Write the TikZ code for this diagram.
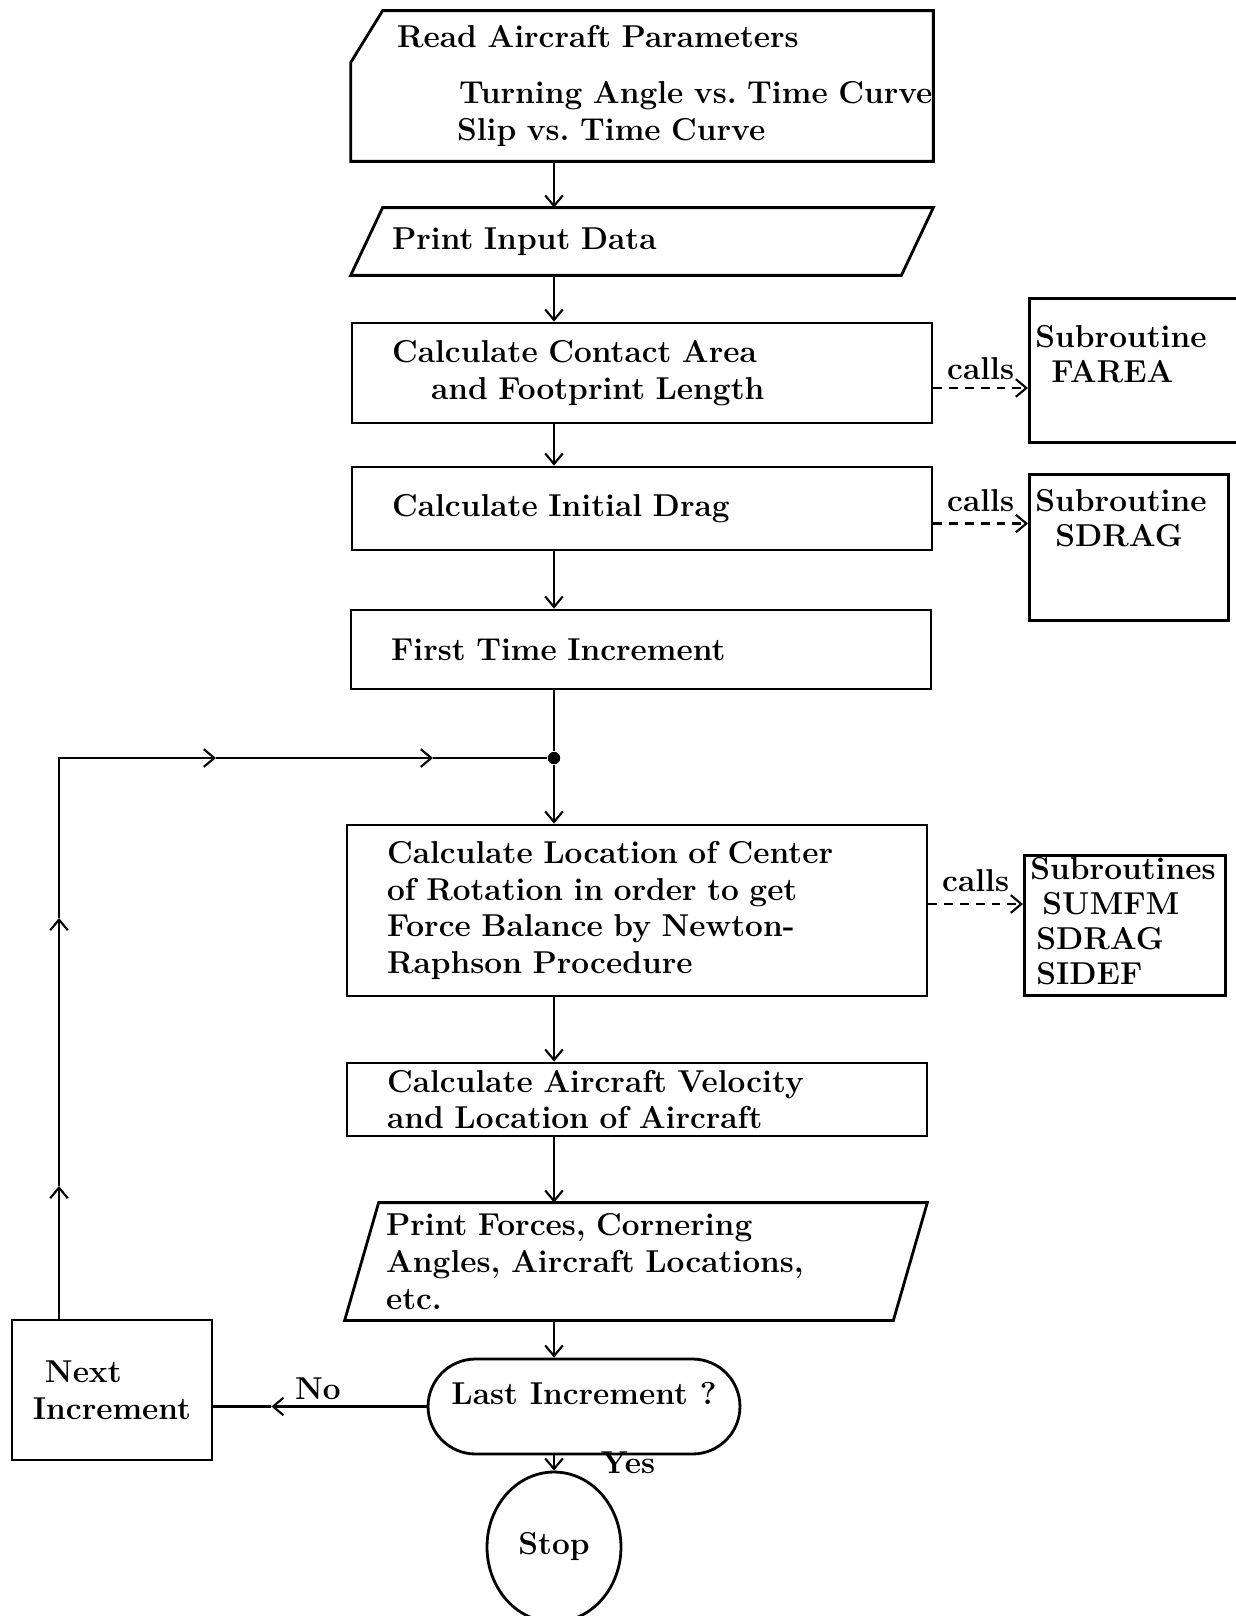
\documentclass[tikz,border=0pt]{standalone}
\usetikzlibrary{shapes.geometric, arrows.meta}

\tikzset{
	box/.style={rectangle, draw, line width=1.6pt, align=left, text width=10cm, inner xsep=0.8cm, inner ysep=0.05cm},
	sub/.style={rectangle, draw, line width=1.6pt, align=left, inner xsep=0.12cm, inner ysep=0.1cm, anchor=north west, font=\fontsize{18}{20}\selectfont\bfseries},
	flow/.style={->, line width=1.2pt},
	calls/.style={->, line width=1.2pt, dash pattern=on 5pt off 4pt},
}

\begin{document}
\begin{tikzpicture}[x=0.02cm, y=-0.02cm, font=\fontsize{18}{21}\selectfont\bfseries, >={Straight Barb[length=6pt, width=10pt]}]

\useasboundingbox (0,0) rectangle (1235,1616);

\node(0) [box, draw=none, text width=11.6cm, inner xsep=0pt, minimum height=2.96cm] at (642, 86) {
	\hspace*{0.9cm}Read Aircraft Parameters\\[0.38cm]
	\hspace*{2.14cm}\mbox{Turning Angle vs.\ Time Curve}\\
	\hspace*{2.1cm}Slip vs.\ Time Curve
};
\draw [line width=1.6pt] ([yshift=-1.04cm]0.north west) -- ([xshift=0.64cm]0.north west) -- (0.north east) -- (0.south east) -- (0.south west) -- cycle;

\node(1) [box, draw=none, minimum height=1.3cm] at (642, 241.5) {Print Input Data};
\draw [line width=1.6pt] (1.south west) -- ([xshift=0.64cm]1.north west) -- (1.north east) -- ([xshift=-0.64cm]1.south east) -- cycle;

\node(2) [box, minimum height=2cm] at (642, 373) {
	Calculate Contact Area\\
	\hspace*{0.78cm}and Footprint Length
};
\node(3) [box, minimum height=1.66cm] at (642, 508.5) {Calculate Initial Drag};
\node(4) [box, minimum height=1.58cm] at (641, 649.5) {First Time Increment};

\node(5) [box, minimum height=3.42cm] at (637, 910.5) {
	Calculate Location of Center\\
	of Rotation in order to get\\
	Force Balance by Newton-\\
	Raphson Procedure
};
\node(6) [box, minimum height=1.46cm] at (637, 1099.5) {
	Calculate Aircraft Velocity\\
	and Location of Aircraft
};

\node(7) [box, draw=none, minimum height=2.3cm] at (636, 1261.5) {
	Print Forces, Cornering\\
	Angles, Aircraft Locations,\\
	etc.
};
\draw [line width=1.6pt] (7.south west) -- ([xshift=0.68cm]7.north west) -- (7.north east) -- ([xshift=-0.68cm]7.south east) -- cycle;

\node(8) [rectangle, rounded corners=0.95cm, draw, line width=1.6pt, minimum width=6.24cm, minimum height=1.9cm, text height=0.42cm, text depth=0.5cm] at (584, 1406.5) {Last Increment ?};
\node(9) [rectangle, draw, line width=1.6pt, align=left, minimum width=4cm, minimum height=2.8cm] at (112, 1390) {
	\hspace*{0.24cm}Next\\
	Increment
};
\node(10) [ellipse, draw, line width=1.6pt, minimum width=2.68cm, minimum height=3cm] at (554, 1547) {Stop};

\node(11) [sub, text width=4cm, text height=0.88cm, text depth=1.8cm] at (1028, 297) {
	Subroutine\\
	\hspace*{0.32cm}FAREA
};
\node(12) [sub, text width=3.74cm, text height=0.64cm, text depth=2.08cm] at (1028, 473) {
	Subroutine\\
	\hspace*{0.4cm}SDRAG
};
\node(13) [sub, text width=3.78cm, text height=0.38cm, text depth=2.22cm] at (1023, 854) {
	Subroutines\\
	\hspace*{0.24cm}SUMFM\\
	\hspace*{0.12cm}SDRAG\\
	\hspace*{0.12cm}SIDEF
};

\coordinate (s) at (554, 0);
\node(j) [circle, fill, inner sep=2.5pt] at (554, 758) {};

\draw [flow] (0.south -| s) -- (1.north -| s);
\draw [flow] (1.south -| s) -- (2.north -| s);
\draw [flow] (2.south -| s) -- (3.north -| s);
\draw [flow] (3.south -| s) -- (4.north -| s);
\draw [line width=1.2pt] (4.south -| j) -- (j);
\draw [flow] (j) -- (5.north -| j);
\draw [flow] (5.south -| s) -- (6.north -| s);
\draw [flow] (6.south -| s) -- (7.north -| s);
\draw [flow] (7.south -| s) -- (8.north -| s);
\draw [flow] (8.south -| s) -- (10.north) node[pos=0.45, right=0.8cm] {Yes};

\path (8.west -| 9.east) ++(1.16cm,0) coordinate (n);
\draw [flow] (8.west) -- (n) node[pos=0.7, above] {No};
\draw [line width=1.2pt] (n) -- (8.west -| 9.east);

\coordinate (c) at (59, 758);
\coordinate (a1) at (59, 1186);
\coordinate (a2) at (59, 918);
\coordinate (a3) at (216, 758);
\coordinate (a4) at (433, 758);
\draw [flow] (9.north -| c) -- (a1);
\draw [flow] (a1) -- (a2);
\draw [flow] (a2) -- (c) -- (a3);
\draw [flow] (a3) -- (a4);
\draw [line width=1.2pt] (a4) -- (j);

\draw [calls] ([yshift=-0.3cm]2.east) -- ([yshift=-0.3cm]2.east -| 11.west) node[midway, above=1pt] {calls};
\draw [calls] ([yshift=-0.3cm]3.east) -- ([yshift=-0.3cm]3.east -| 12.west) node[midway, above=3pt] {calls};
\draw [calls] ([yshift=0.13cm]5.east) -- ([yshift=0.13cm]5.east -| 13.west) node[midway, above=3pt] {calls};

\end{tikzpicture}
\end{document}
